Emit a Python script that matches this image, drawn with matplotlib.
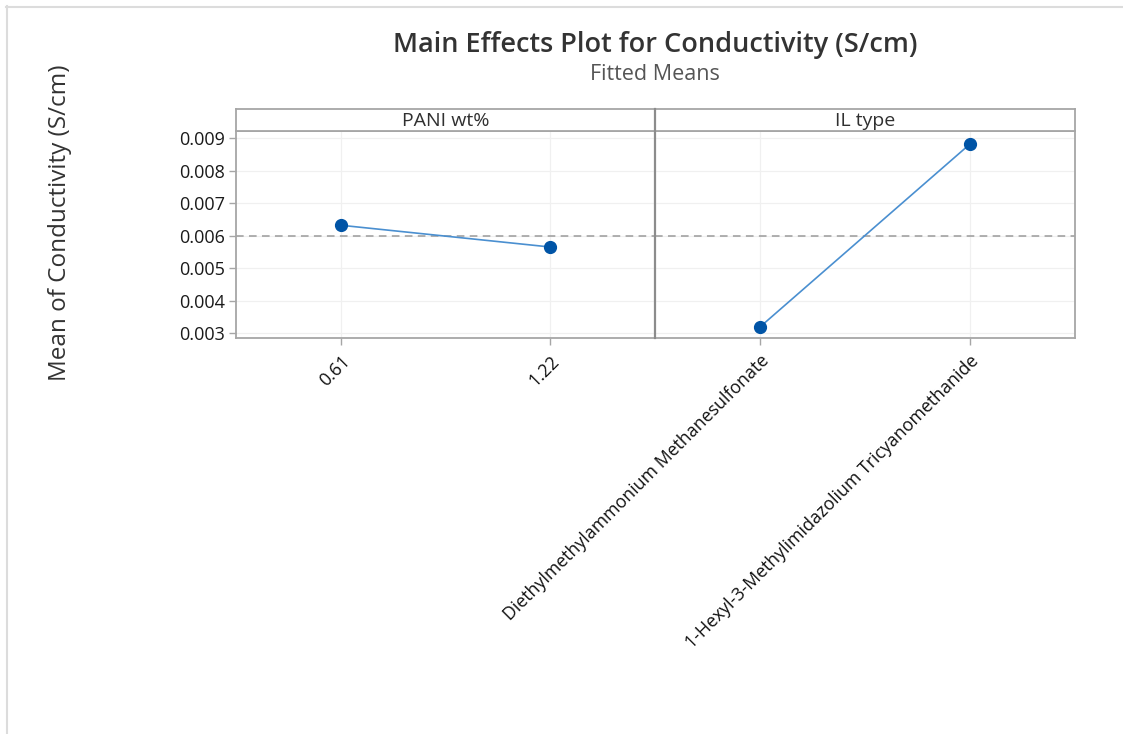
import matplotlib
matplotlib.use("Agg")
import matplotlib.pyplot as plt
from matplotlib.lines import Line2D

plt.rcParams['font.family'] = ['Open Sans', 'DejaVu Sans']

# Data
factors = ["PANI wt%", "IL type"]
pani_levels = ["0.61", "1.22"]
pani_means = [0.00632, 0.00565]
il_levels = ["Diethylmethylammonium Methanesulfonate",
             "1-Hexyl-3-Methylimidazolium Tricyanomethanide"]
il_means = [0.00319, 0.00882]
grand_mean = 0.0060
yticks = [0.003, 0.004, 0.005, 0.006, 0.007, 0.008, 0.009]
ytick_labels = ["0.003", "0.004", "0.005", "0.006", "0.007", "0.008", "0.009"]

W, H = 1123, 734
fig = plt.figure(figsize=(W / 100, H / 100), dpi=100)

def fx(px):
    return px / W

def fy(py):
    return 1 - py / H

# figure border (top and left)
fig.add_artist(Line2D([fx(6), 1], [fy(6.5), fy(6.5)], color='#dcdcdc', lw=1.5, transform=fig.transFigure))
fig.add_artist(Line2D([fx(6.5), fx(6.5)], [fy(6), 0], color='#dcdcdc', lw=1.5, transform=fig.transFigure))

left0, right0 = 236, 1075
mid = 655
top_plot, bot_plot = 131, 338
strip_top = 109

panels = [
    (left0, mid, pani_levels, pani_means, factors[0]),
    (mid, right0, il_levels, il_means, factors[1]),
]

frame_color = '#a6a6a6'
for i, (x0, x1, levels, means, fac) in enumerate(panels):
    ax = fig.add_axes([fx(x0), fy(bot_plot), fx(x1 - x0), (bot_plot - top_plot) / H])
    xs = list(range(len(levels)))
    ax.set_xlim(-0.5, len(levels) - 0.5)
    ax.set_ylim(0.00285, 0.00922)
    ax.grid(True, color='#f0f0f0', lw=0.9)
    ax.set_axisbelow(True)
    ax.axhline(grand_mean, color='#9a9a9a', lw=1.1, ls=(0, (5, 3.5)), zorder=2)
    ax.plot(xs, means, color='#4a8fd0', lw=1.2, zorder=3)
    ax.plot(xs, means, 'o', color='#0054a6', ms=8.5, zorder=4)
    ax.set_xticks(xs)
    ax.set_xticklabels(levels, rotation=45, ha='right', rotation_mode='anchor',
                       fontsize=12.8, color='#111111')
    ax.set_yticks(yticks)
    if i == 0:
        ax.set_yticklabels(ytick_labels, fontsize=13, color='#1a1a1a')
    else:
        ax.tick_params(axis='y', left=False, labelleft=False)
    ax.tick_params(axis='both', color=frame_color, length=5, width=1)
    ax.tick_params(axis='x', pad=5)
    ax.tick_params(axis='y', pad=3)
    for s in ax.spines.values():
        s.set_color(frame_color)
        s.set_linewidth(1.3)
    # strip header
    sax = fig.add_axes([fx(x0), fy(top_plot), fx(x1 - x0), (top_plot - strip_top) / H])
    sax.set_xticks([])
    sax.set_yticks([])
    for s in sax.spines.values():
        s.set_color(frame_color)
        s.set_linewidth(1.3)
    sax.text(0.5, 0.45, fac, ha='center', va='center', fontsize=14, color='#303030',
             transform=sax.transAxes)

# middle divider
fig.add_artist(Line2D([fx(mid), fx(mid)], [fy(bot_plot), fy(strip_top)], color='#8c8c8c', lw=1.6,
                      transform=fig.transFigure))

fig.text(fx(655), fy(45), "Main Effects Plot for Conductivity (S/cm)", ha='center', va='center',
         fontsize=19.5, color='#333333', fontweight='semibold')
fig.text(fx(655), fy(75), "Fitted Means", ha='center', va='center', fontsize=15.5, color='#555555')
fig.text(fx(60), fy(223), "Mean of Conductivity (S/cm)", rotation=90, ha='center', va='center',
         fontsize=17.5, color='#333333')

fig.savefig("out.png", dpi=100, facecolor='white')
